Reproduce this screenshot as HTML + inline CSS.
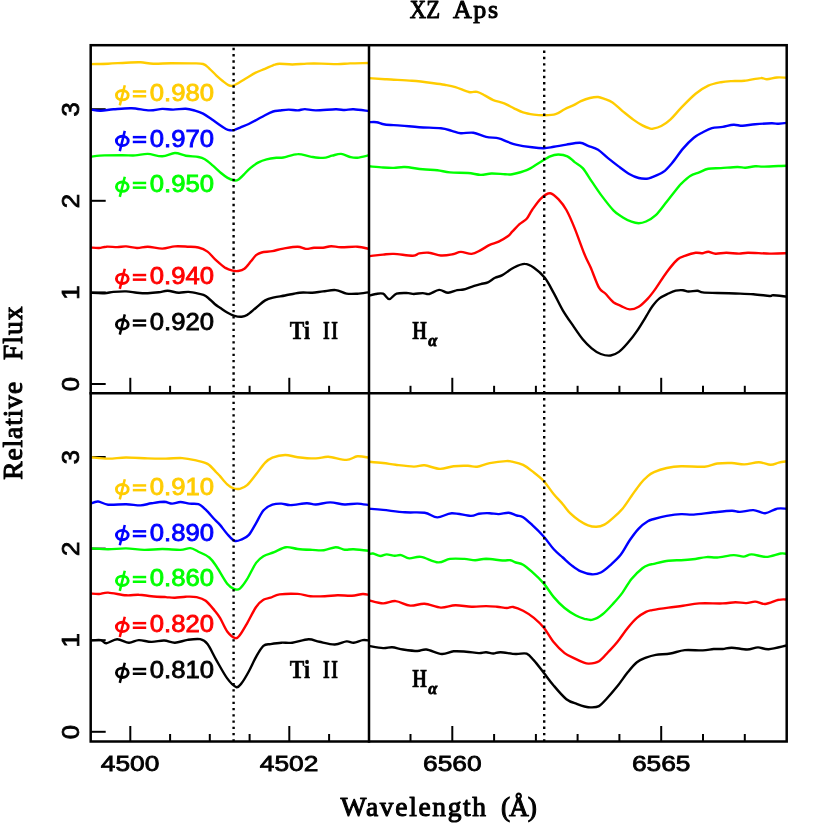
<!DOCTYPE html><html><head><meta charset="utf-8"><title>XZ Aps</title>
<style>html,body{margin:0;padding:0;background:#fff}svg{display:block}.s{font-family:"Liberation Sans",sans-serif}.h{font-family:"Liberation Serif",serif}.r{font-family:"Liberation Serif",serif;font-weight:bold}</style></head><body>
<svg width="830" height="830" viewBox="0 0 830 830">
<rect width="830" height="830" fill="#fff"/>
<g stroke="#000" stroke-width="2.0" fill="none">
<path d="M90.7 384.0H105.7"/>
<path d="M90.7 292.4H105.7"/>
<path d="M90.7 200.8H105.7"/>
<path d="M90.7 109.2H105.7"/>
<path d="M90.7 731.8H105.7"/>
<path d="M90.7 640.2H105.7"/>
<path d="M90.7 548.6H105.7"/>
<path d="M90.7 457.0H105.7"/>
<path d="M130.3 393.3V377.8"/>
<path d="M170.1 393.3V385.8"/>
<path d="M209.8 393.3V385.8"/>
<path d="M249.6 393.3V385.8"/>
<path d="M289.3 393.3V377.8"/>
<path d="M329.1 393.3V385.8"/>
<path d="M410.5 393.3V385.8"/>
<path d="M452.3 393.3V377.8"/>
<path d="M494.1 393.3V385.8"/>
<path d="M535.9 393.3V385.8"/>
<path d="M577.6 393.3V385.8"/>
<path d="M619.4 393.3V385.8"/>
<path d="M661.2 393.3V377.8"/>
<path d="M703.0 393.3V385.8"/>
<path d="M744.8 393.3V385.8"/>
<path d="M130.3 741.5V726.0"/>
<path d="M170.1 741.5V734.0"/>
<path d="M209.8 741.5V734.0"/>
<path d="M249.6 741.5V734.0"/>
<path d="M289.3 741.5V726.0"/>
<path d="M329.1 741.5V734.0"/>
<path d="M410.5 741.5V734.0"/>
<path d="M452.3 741.5V726.0"/>
<path d="M494.1 741.5V734.0"/>
<path d="M535.9 741.5V734.0"/>
<path d="M577.6 741.5V734.0"/>
<path d="M619.4 741.5V734.0"/>
<path d="M661.2 741.5V726.0"/>
<path d="M703.0 741.5V734.0"/>
<path d="M744.8 741.5V734.0"/>
</g>
<g fill="none" stroke-width="2.4" stroke-linejoin="round" stroke-linecap="butt">
<path stroke="#000000" d="M90.7 292.8C93.0 292.9 100.7 293.4 104.5 293.2C108.3 293.0 109.9 292.2 113.5 291.9C117.1 291.6 122.2 291.3 126.1 291.4C130.0 291.5 133.4 292.4 137.0 292.7C140.6 293.0 144.2 293.3 147.8 293.2C151.4 293.1 155.4 292.7 158.7 292.3C162.0 291.9 164.4 290.7 167.7 290.8C171.0 290.9 175.1 292.5 178.6 292.7C182.1 292.9 185.2 291.7 188.5 291.9C191.8 292.1 195.5 293.0 198.4 293.7C201.3 294.4 203.0 294.2 205.7 295.9C208.4 297.6 212.3 302.0 214.7 304.0C217.1 306.0 217.9 306.3 220.0 307.7C222.1 309.1 224.8 311.1 227.2 312.5C229.6 313.9 232.1 315.1 234.5 315.8C236.9 316.5 239.6 316.9 241.7 316.7C243.8 316.5 244.7 316.4 247.1 314.9C249.5 313.4 253.1 310.1 256.1 307.7C259.1 305.3 262.2 302.1 265.2 300.4C268.2 298.7 270.9 298.2 274.2 297.4C277.5 296.6 280.9 296.3 285.1 295.5C289.3 294.7 295.0 293.2 299.5 292.7C304.0 292.2 308.3 292.9 312.2 292.7C316.1 292.5 319.1 291.8 323.0 291.4C326.9 291.0 331.8 289.7 335.7 290.1C339.6 290.5 342.9 293.0 346.5 293.6C350.1 294.2 353.6 293.9 357.4 293.7C361.1 293.5 367.1 292.5 369.0 292.3"/>
<path stroke="#ff0000" d="M90.7 247.5C92.1 247.6 96.4 248.1 99.0 248.0C101.6 247.9 103.3 246.8 106.3 246.7C109.3 246.5 113.8 247.1 117.1 247.1C120.4 247.1 122.8 246.2 126.1 246.4C129.4 246.6 133.4 247.9 137.0 248.0C140.6 248.1 143.6 246.6 147.8 246.7C152.0 246.8 157.8 248.6 162.3 248.6C166.8 248.6 170.7 246.7 174.9 246.4C179.1 246.1 183.7 246.5 187.6 246.7C191.5 246.9 195.1 246.7 198.4 247.5C201.7 248.3 204.5 249.4 207.5 251.6C210.5 253.8 213.5 258.0 216.5 260.7C219.5 263.4 222.7 266.2 225.4 267.9C228.1 269.5 230.6 270.1 232.7 270.6C234.8 271.1 236.1 271.3 238.1 271.0C240.1 270.7 242.3 270.4 244.4 268.8C246.5 267.2 248.8 263.9 250.7 261.6C252.6 259.3 254.3 256.7 256.1 255.2C257.9 253.7 258.9 253.2 261.6 252.5C264.3 251.8 268.8 251.8 272.4 251.1C276.0 250.4 279.1 249.3 283.3 248.6C287.5 247.9 293.9 246.6 297.7 246.7C301.4 246.8 303.1 248.7 305.8 248.9C308.5 249.1 311.1 248.0 314.0 247.8C316.9 247.6 320.1 248.0 323.0 247.7C325.9 247.4 328.1 246.3 331.1 246.2C334.1 246.1 336.7 247.2 341.1 247.3C345.5 247.4 352.8 246.4 357.4 246.7C362.0 247.0 367.1 248.5 369.0 248.9"/>
<path stroke="#00ff00" d="M90.7 156.6C93.0 156.4 99.2 155.6 104.5 155.4C109.8 155.2 117.4 155.2 122.5 155.2C127.6 155.2 131.0 155.6 135.2 155.4C139.4 155.2 143.3 153.8 147.8 153.9C152.3 154.1 157.8 156.5 162.3 156.3C166.8 156.2 171.0 153.1 174.9 153.0C178.8 152.9 181.9 155.0 185.8 155.7C189.7 156.4 195.2 156.4 198.4 157.0C201.6 157.6 202.4 157.8 204.8 159.2C207.2 160.6 210.2 163.4 212.9 165.7C215.6 168.0 218.6 171.0 221.0 173.0C223.4 175.0 225.4 176.7 227.6 177.9C229.8 179.1 232.3 180.1 234.1 180.4C235.8 180.7 236.5 180.8 238.1 179.8C239.7 178.8 241.8 176.6 243.8 174.6C245.8 172.6 247.9 170.1 250.3 168.1C252.8 166.1 255.8 163.8 258.5 162.4C261.2 161.0 263.6 160.2 266.6 159.4C269.6 158.6 273.6 158.1 276.4 157.8C279.2 157.5 279.8 158.1 283.3 157.5C286.9 156.9 293.2 154.2 297.7 154.1C302.2 153.9 306.2 156.0 310.4 156.6C314.6 157.2 319.4 158.1 323.0 157.9C326.6 157.8 329.1 156.4 332.1 155.7C335.1 155.0 338.1 153.7 341.1 153.9C344.1 154.1 347.4 156.4 350.1 157.0C352.8 157.6 354.2 158.0 357.4 157.7C360.5 157.4 367.1 155.6 369.0 155.2"/>
<path stroke="#0000ff" d="M90.7 109.6C92.4 109.8 97.0 110.8 100.8 110.7C104.6 110.7 108.4 109.7 113.5 109.3C118.6 108.9 125.6 108.0 131.6 108.2C137.6 108.4 144.5 110.3 149.6 110.4C154.7 110.5 158.4 109.0 162.3 108.9C166.2 108.8 169.2 109.6 173.1 109.6C177.0 109.6 182.2 108.5 185.8 108.7C189.5 108.9 192.1 109.8 195.0 110.6C197.9 111.4 200.4 112.2 203.1 113.6C205.8 115.0 208.6 117.1 211.3 119.0C214.0 120.9 217.0 123.1 219.4 124.8C221.8 126.5 224.1 128.1 225.9 129.0C227.7 129.9 228.6 130.1 230.0 130.3C231.4 130.5 232.3 130.6 234.1 130.1C235.9 129.6 238.2 128.4 240.6 127.4C243.0 126.4 246.0 125.3 248.7 124.0C251.4 122.7 254.1 121.3 256.8 119.8C259.5 118.3 262.3 116.6 265.0 115.2C267.7 113.8 270.7 112.3 273.1 111.5C275.5 110.7 277.0 110.8 279.6 110.5C282.2 110.2 285.7 109.6 288.7 109.6C291.7 109.6 295.0 110.5 297.7 110.4C300.4 110.3 301.9 109.1 304.9 109.1C307.9 109.1 310.7 110.4 315.8 110.4C320.9 110.4 330.9 109.4 335.7 109.3C340.5 109.2 341.7 110.0 344.7 110.0C347.7 110.0 349.6 109.1 353.7 109.3C357.8 109.5 366.4 110.8 369.0 111.1"/>
<path stroke="#ffcc00" d="M90.7 64.1C93.6 64.0 102.2 63.9 108.1 63.7C114.0 63.5 120.7 62.9 126.1 62.7C131.5 62.5 136.1 62.1 140.6 62.3C145.1 62.5 148.2 63.6 153.3 63.7C158.4 63.9 165.0 63.2 171.3 63.2C177.6 63.2 185.9 63.3 191.2 63.4C196.5 63.5 200.0 63.1 203.1 64.0C206.2 64.9 207.4 66.9 209.6 68.8C211.8 70.7 214.0 73.3 216.2 75.3C218.4 77.3 220.7 79.4 222.7 81.0C224.7 82.6 226.7 84.3 228.4 85.1C230.2 85.9 231.4 86.1 233.2 85.7C234.9 85.3 236.6 84.0 238.9 82.7C241.2 81.4 244.4 79.4 247.1 77.8C249.8 76.2 252.2 74.4 255.2 72.9C258.2 71.4 261.7 70.2 265.0 68.8C268.3 67.4 272.4 65.4 274.8 64.6C277.2 63.7 276.7 63.7 279.6 63.7C282.5 63.7 287.8 64.5 292.3 64.5C296.8 64.5 302.0 63.8 306.8 63.6C311.6 63.5 316.1 63.5 321.2 63.6C326.3 63.7 332.7 64.1 337.5 64.1C342.3 64.1 344.9 63.6 350.1 63.4C355.4 63.2 365.9 63.1 369.0 63.0"/>
<path stroke="#000000" d="M369.0 295.8C370.1 295.5 373.4 294.4 375.8 294.0C378.2 293.6 380.8 292.8 383.1 293.7C385.4 294.6 387.1 299.1 389.4 299.1C391.6 299.1 393.4 294.7 396.6 293.7C399.8 292.7 405.5 293.1 408.4 293.1C411.3 293.2 411.4 294.0 413.8 294.0C416.2 294.0 420.2 293.1 422.8 293.1C425.4 293.1 426.5 294.5 429.2 294.0C431.9 293.5 436.0 290.1 439.1 289.9C442.2 289.7 445.1 292.8 448.1 292.8C451.1 292.8 454.6 290.7 457.2 290.1C459.8 289.6 461.1 290.1 463.5 289.5C465.9 288.9 468.7 287.7 471.6 286.8C474.5 285.9 478.0 284.9 480.7 284.1C483.4 283.4 485.5 283.4 487.9 282.3C490.3 281.2 492.7 279.0 495.1 277.8C497.5 276.6 499.2 276.8 502.4 275.1C505.5 273.4 510.2 269.4 514.0 267.5C517.8 265.6 521.6 263.8 524.9 263.9C528.2 263.9 530.6 265.5 533.9 267.8C537.2 270.1 541.5 273.6 544.8 277.8C548.1 282.0 550.8 287.7 553.8 293.1C556.8 298.5 559.5 304.7 562.8 310.3C566.1 315.9 570.4 321.8 573.7 326.6C577.0 331.4 579.7 335.6 582.7 339.2C585.7 342.8 588.7 345.8 591.7 348.3C594.7 350.8 597.6 352.8 600.8 354.0C604.0 355.2 607.7 355.9 610.7 355.5C613.7 355.1 616.0 354.0 618.9 351.9C621.8 349.8 624.9 346.3 627.9 342.8C630.9 339.3 633.9 335.5 636.9 331.1C639.9 326.7 643.5 320.7 646.0 316.6C648.5 312.5 650.0 309.5 652.2 306.5C654.5 303.5 656.8 300.6 659.5 298.4C662.2 296.2 665.8 294.8 668.5 293.5C671.2 292.2 673.3 291.2 675.7 290.6C678.1 290.1 680.9 290.1 683.0 290.2C685.1 290.3 686.0 291.4 688.4 291.5C690.8 291.6 695.0 290.7 697.4 290.8C699.8 290.9 699.5 292.0 702.8 292.4C706.1 292.8 711.9 292.8 717.3 293.0C722.7 293.2 729.4 293.3 735.4 293.5C741.4 293.7 747.7 293.8 753.4 294.2C759.1 294.6 766.4 295.8 769.7 296.0C773.0 296.2 770.5 295.2 773.3 295.3C776.1 295.4 784.5 296.4 786.7 296.6"/>
<path stroke="#ff0000" d="M369.0 256.1C371.4 255.9 379.0 255.0 383.1 254.6C387.2 254.2 388.9 253.7 393.9 253.9C398.9 254.1 408.7 255.8 412.9 255.7C417.1 255.6 416.5 253.9 419.2 253.4C421.9 252.9 425.6 252.3 429.2 252.7C432.8 253.0 437.0 255.2 440.9 255.5C444.8 255.8 449.4 254.9 452.7 254.3C456.0 253.7 457.6 252.0 460.8 251.9C464.0 251.8 468.3 254.2 471.6 253.9C474.9 253.6 477.7 251.6 480.7 250.1C483.7 248.6 486.7 246.3 489.7 244.9C492.7 243.5 495.7 243.1 498.7 241.6C501.7 240.1 505.6 237.8 507.8 236.2C510.1 234.5 510.3 233.7 512.2 231.7C514.2 229.7 517.1 226.3 519.5 224.1C521.9 221.9 524.6 221.0 526.7 218.7C528.8 216.3 529.7 213.4 532.1 210.0C534.5 206.6 538.1 201.1 541.1 198.3C544.1 195.5 547.2 192.9 550.2 193.2C553.2 193.5 556.5 197.3 559.2 200.1C561.9 202.9 563.8 205.3 566.4 210.0C569.0 214.7 571.6 220.7 574.6 228.1C577.6 235.5 581.8 247.7 584.5 254.3C587.2 260.9 588.4 262.2 590.8 267.8C593.2 273.4 596.6 283.4 599.0 287.7C601.4 292.0 602.9 291.1 605.3 293.5C607.7 295.9 610.8 300.1 613.4 302.2C616.0 304.2 618.0 304.6 620.7 305.8C623.4 307.0 626.7 309.2 629.7 309.4C632.7 309.5 635.7 308.5 638.7 306.7C641.7 304.9 644.9 301.7 647.8 298.6C650.6 295.6 652.6 292.8 655.8 288.4C658.9 284.0 663.1 277.0 666.7 272.2C670.3 267.4 674.5 262.2 677.5 259.5C680.5 256.8 681.8 257.0 684.8 255.9C687.8 254.8 692.6 253.2 695.6 252.8C698.6 252.4 700.7 253.4 702.8 253.2C704.9 253.0 706.2 251.7 708.3 251.8C710.4 251.9 712.5 253.5 715.5 253.7C718.5 253.9 722.4 252.8 726.3 252.8C730.2 252.8 735.4 253.6 739.0 253.6C742.6 253.6 742.9 252.7 748.0 252.7C753.1 252.7 763.2 253.5 769.7 253.6C776.2 253.7 783.9 253.3 786.7 253.2"/>
<path stroke="#00ff00" d="M369.0 166.3C371.4 166.5 379.0 167.2 383.1 167.5C387.2 167.8 390.3 168.0 393.9 167.9C397.5 167.8 400.0 166.8 404.8 167.0C409.6 167.2 417.4 168.8 422.8 169.3C428.2 169.8 432.8 169.7 437.3 170.2C441.8 170.7 444.8 171.9 449.9 172.4C455.0 172.9 462.9 172.6 468.0 173.0C473.1 173.4 476.8 174.8 480.7 174.9C484.6 175.0 487.4 173.6 491.5 173.5C495.6 173.4 501.6 174.1 505.0 174.2C508.4 174.3 508.6 174.9 512.2 174.2C515.8 173.5 522.2 172.1 526.7 170.2C531.2 168.3 535.4 165.0 539.3 162.7C543.2 160.4 547.0 157.7 550.2 156.3C553.4 154.9 555.4 154.5 558.3 154.5C561.2 154.5 564.7 155.0 567.4 156.3C570.1 157.6 572.0 160.1 574.6 162.1C577.2 164.1 579.9 164.9 582.7 168.1C585.6 171.3 588.7 177.0 591.7 181.4C594.7 185.8 597.2 189.8 600.8 194.6C604.4 199.4 609.8 206.5 613.4 210.3C617.0 214.1 619.5 215.3 622.5 217.2C625.5 219.1 628.8 220.7 631.5 221.7C634.2 222.7 636.3 223.2 638.7 223.2C641.1 223.2 643.1 222.8 646.0 221.5C648.9 220.2 652.3 218.5 655.8 215.2C659.2 211.9 663.1 206.2 666.7 201.7C670.3 197.2 675.1 191.1 677.5 188.1C679.9 185.1 679.0 185.8 681.1 183.8C683.2 181.8 687.2 177.9 690.2 176.0C693.2 174.1 696.2 173.6 699.2 172.4C702.2 171.2 704.7 169.5 708.3 168.8C711.9 168.1 716.1 168.4 720.9 168.1C725.7 167.8 733.1 167.1 737.2 167.0C741.3 166.9 742.3 167.8 745.3 167.7C748.3 167.6 752.0 166.5 755.2 166.3C758.4 166.1 759.0 166.7 764.3 166.6C769.5 166.5 783.0 165.8 786.7 165.7"/>
<path stroke="#0000ff" d="M369.0 122.2C370.3 122.2 374.1 121.8 376.7 122.2C379.3 122.6 380.8 123.9 384.9 124.5C389.0 125.1 395.4 125.1 401.1 125.6C406.8 126.0 412.6 126.8 419.2 127.2C425.8 127.7 435.5 127.7 440.9 128.3C446.3 128.9 448.5 130.0 451.8 130.8C455.1 131.6 457.2 132.9 460.8 133.2C464.4 133.5 469.2 132.1 473.4 132.7C477.6 133.3 481.9 135.9 486.1 136.8C490.3 137.7 495.1 137.5 498.7 138.3C502.3 139.2 505.0 140.9 507.8 141.9C510.6 142.9 511.7 143.7 515.8 144.6C519.8 145.5 527.4 146.7 532.1 147.3C536.8 147.9 540.3 148.3 543.9 148.2C547.5 148.1 550.0 147.4 553.8 146.8C557.5 146.2 562.0 145.3 566.4 144.6C570.8 143.9 576.4 142.6 580.0 142.8C583.6 143.0 585.1 144.6 588.1 145.8C591.1 147.0 594.8 147.8 598.1 149.8C601.4 151.9 604.5 155.3 608.0 158.1C611.5 160.9 615.3 163.9 618.9 166.6C622.5 169.3 626.4 172.3 629.7 174.2C633.0 176.1 635.8 177.2 638.7 178.0C641.6 178.8 644.6 178.8 646.9 178.7C649.1 178.5 649.5 178.2 652.2 177.1C654.9 176.0 659.8 174.4 663.1 172.1C666.4 169.8 668.8 166.9 672.1 163.0C675.4 159.1 679.4 152.8 683.0 148.6C686.6 144.4 690.5 140.4 693.8 137.7C697.1 135.0 699.8 133.9 702.8 132.3C705.8 130.7 708.6 129.0 711.9 128.1C715.2 127.2 719.1 127.5 722.7 126.9C726.3 126.3 730.3 124.9 733.6 124.7C736.9 124.5 739.0 125.9 742.6 125.8C746.2 125.7 750.4 124.6 755.2 124.2C760.0 123.8 767.6 123.4 771.5 123.3C775.4 123.2 776.2 123.9 778.7 123.8C781.2 123.7 785.4 123.1 786.7 122.9"/>
<path stroke="#ffcc00" d="M369.0 78.1C371.9 78.3 379.5 78.8 386.7 79.3C393.9 79.8 404.5 80.2 412.0 80.8C419.5 81.4 426.5 82.3 431.9 83.0C437.3 83.7 440.6 84.1 444.5 84.8C448.4 85.5 451.3 85.9 455.4 87.1C459.5 88.3 465.3 91.2 468.9 92.0C472.5 92.8 474.4 91.2 477.1 91.8C479.8 92.4 482.5 94.2 485.2 95.6C487.9 97.0 490.1 98.8 493.3 100.1C496.5 101.4 500.8 102.0 504.2 103.4C507.6 104.8 510.9 106.8 514.0 108.3C517.1 109.8 519.8 111.4 523.1 112.4C526.4 113.5 530.4 114.1 533.9 114.6C537.4 115.1 540.3 115.4 543.9 115.3C547.5 115.2 552.1 115.2 555.6 114.2C559.1 113.2 561.6 110.7 564.6 109.2C567.6 107.7 571.0 106.5 573.7 105.2C576.4 103.9 578.2 102.4 580.9 101.2C583.6 100.0 587.0 98.7 589.9 98.0C592.8 97.3 595.7 96.8 598.1 97.0C600.5 97.2 602.0 98.0 604.4 98.9C606.8 99.8 609.5 100.5 612.5 102.5C615.5 104.5 619.0 108.2 622.5 111.1C626.0 113.9 630.0 117.2 633.3 119.6C636.6 122.0 639.7 124.0 642.4 125.4C645.1 126.9 647.8 127.8 649.6 128.3C651.4 128.9 651.2 129.1 653.1 128.7C655.0 128.3 658.4 127.5 661.3 126.0C664.2 124.5 667.0 122.6 670.3 119.6C673.6 116.6 676.9 112.2 681.1 107.9C685.3 103.6 691.1 97.5 695.6 93.8C700.1 90.1 704.1 87.6 708.3 85.7C712.5 83.8 717.0 83.0 720.9 82.2C724.8 81.4 727.9 81.3 731.8 81.1C735.7 80.9 739.6 81.3 744.4 80.8C749.2 80.3 756.9 78.3 760.7 78.1C764.5 77.8 764.3 79.4 767.0 79.3C769.7 79.2 773.6 77.8 776.9 77.5C780.2 77.2 785.1 77.7 786.7 77.7"/>
<path stroke="#000000" d="M90.7 640.5C92.4 640.4 98.2 639.6 100.8 640.1C103.4 640.6 103.6 643.4 106.3 643.2C109.0 643.1 113.3 639.3 117.1 639.2C120.9 639.1 125.3 642.6 128.9 642.8C132.5 642.9 135.1 640.2 138.8 640.1C142.6 640.0 147.2 641.8 151.4 641.9C155.6 642.0 160.2 640.4 164.1 640.5C168.0 640.6 171.0 642.8 174.9 642.7C178.8 642.6 183.4 640.5 187.6 639.9C191.8 639.3 196.9 638.5 200.2 639.2C203.5 639.9 204.8 640.6 207.5 644.1C210.2 647.6 213.2 654.7 216.5 660.4C219.8 666.1 223.9 673.9 227.2 678.4C230.5 682.9 233.9 686.3 236.3 687.1C238.7 687.9 239.6 685.6 241.7 683.0C243.8 680.4 246.5 675.6 248.9 671.2C251.3 666.8 253.7 661.0 256.1 656.8C258.5 652.6 261.0 648.0 263.4 645.9C265.8 643.8 267.6 644.6 270.6 644.1C273.6 643.6 277.8 642.9 281.4 642.7C285.0 642.5 287.8 643.3 292.3 642.7C296.8 642.1 304.1 639.4 308.6 639.2C313.1 639.1 315.0 640.9 319.4 641.8C323.8 642.7 330.3 644.6 334.8 644.5C339.3 644.4 343.4 641.7 346.5 641.4C349.6 641.1 351.0 642.9 353.7 642.7C356.4 642.5 360.2 640.5 362.8 640.1C365.4 639.7 368.0 640.4 369.0 640.5"/>
<path stroke="#ff0000" d="M90.7 593.5C92.1 593.6 96.1 594.1 99.0 594.0C101.9 593.9 103.6 592.4 108.1 592.6C112.6 592.8 121.0 594.9 126.1 595.3C131.2 595.7 134.6 594.6 138.8 594.8C143.0 594.9 146.9 595.8 151.4 596.2C155.9 596.6 162.0 596.9 165.9 597.1C169.8 597.4 171.6 597.8 174.9 597.7C178.2 597.6 182.2 596.8 185.8 596.7C189.4 596.6 193.3 596.4 196.6 597.1C199.9 597.8 202.7 598.4 205.7 600.7C208.7 603.0 212.3 607.8 214.7 610.7C217.1 613.6 217.9 614.5 220.0 617.9C222.1 621.3 224.6 628.0 227.2 631.4C229.8 634.8 233.3 637.5 235.4 638.1C237.5 638.7 238.0 637.6 239.9 635.1C241.8 632.6 244.4 628.0 247.1 623.3C249.8 618.6 253.4 610.9 256.1 607.0C258.8 603.1 261.0 601.3 263.4 599.8C265.8 598.2 267.9 598.6 270.6 597.7C273.3 596.8 275.1 595.0 279.6 594.4C284.1 593.8 292.6 593.6 297.7 593.9C302.8 594.2 305.9 595.8 310.4 596.2C314.9 596.6 320.3 596.4 324.8 596.2C329.3 596.1 333.0 595.4 337.5 595.3C342.0 595.2 347.7 595.9 351.9 595.7C356.1 595.5 359.9 594.1 362.8 594.0C365.7 593.9 368.0 594.7 369.0 594.8"/>
<path stroke="#00ff00" d="M90.7 548.4C93.6 548.5 102.2 549.3 108.1 549.3C114.0 549.3 120.1 548.3 126.1 548.4C132.1 548.5 138.2 549.8 144.2 549.9C150.2 550.0 156.3 549.0 162.3 549.0C168.3 549.0 175.7 550.0 180.4 549.9C185.1 549.8 187.3 547.8 190.3 548.1C193.3 548.4 195.2 550.1 198.4 551.7C201.6 553.3 206.3 555.0 209.3 557.5C212.3 560.0 213.5 562.1 216.5 566.5C219.5 570.9 224.2 579.9 227.2 583.7C230.2 587.5 232.4 588.3 234.5 589.1C236.6 589.9 237.8 590.2 239.9 588.6C242.0 587.0 244.4 583.5 247.1 579.2C249.8 574.9 253.4 566.7 256.1 562.9C258.8 559.1 260.4 558.0 263.4 556.2C266.4 554.4 270.4 553.6 274.2 552.1C278.0 550.6 282.1 547.7 286.0 547.2C289.9 546.7 293.3 548.5 297.7 549.0C302.1 549.5 307.8 549.7 312.2 549.9C316.6 550.1 320.0 550.7 323.9 550.2C327.8 549.8 332.2 547.3 335.7 547.2C339.2 547.1 341.7 549.4 344.7 549.7C347.7 550.1 349.6 549.1 353.7 549.3C357.8 549.5 366.4 550.5 369.0 550.8"/>
<path stroke="#0000ff" d="M90.7 503.6C91.9 503.2 95.2 501.3 98.1 501.5C101.0 501.7 103.4 504.2 108.1 504.7C112.8 505.1 120.7 504.1 126.1 504.2C131.5 504.3 136.4 505.5 140.6 505.4C144.8 505.2 147.5 503.9 151.4 503.3C155.3 502.7 160.6 501.8 164.1 501.8C167.6 501.9 169.5 503.6 172.2 503.6C174.9 503.6 177.5 502.0 180.4 502.0C183.3 502.0 186.4 503.2 189.4 503.6C192.4 504.0 195.7 503.2 198.4 504.2C201.1 505.2 203.0 507.1 205.7 509.6C208.4 512.1 212.3 517.0 214.7 519.5C217.1 522.0 217.9 522.5 220.0 524.9C222.1 527.3 224.8 531.4 227.2 534.0C229.6 536.6 232.1 539.9 234.5 540.8C236.9 541.7 239.3 540.4 241.7 539.4C244.1 538.4 246.5 537.6 248.9 534.9C251.3 532.2 253.7 527.2 256.1 523.1C258.5 519.0 260.7 513.6 263.4 510.5C266.1 507.4 269.4 505.8 272.4 504.7C275.4 503.6 278.4 503.5 281.4 503.6C284.4 503.7 286.3 505.2 290.5 505.1C294.7 505.1 302.6 503.4 306.8 503.3C311.0 503.2 311.9 504.6 315.8 504.5C319.7 504.4 325.4 502.4 330.2 502.4C335.0 502.4 340.2 504.3 344.7 504.5C349.2 504.7 353.3 503.5 357.4 503.6C361.4 503.7 367.1 504.9 369.0 505.1"/>
<path stroke="#ffcc00" d="M90.7 457.2C93.6 457.4 102.2 458.6 108.1 458.6C114.0 458.7 119.5 457.5 126.1 457.5C132.7 457.5 141.2 458.2 147.8 458.4C154.4 458.6 160.2 458.7 165.9 458.6C171.6 458.6 177.4 457.8 182.2 458.1C187.0 458.4 190.6 459.2 194.8 460.2C199.0 461.2 203.9 461.8 207.5 463.9C211.1 465.9 214.4 470.5 216.5 472.5C218.6 474.5 218.2 474.1 220.0 476.1C221.8 478.1 224.9 482.2 227.2 484.3C229.5 486.4 231.5 487.6 233.6 488.4C235.7 489.1 237.7 489.3 239.9 488.8C242.2 488.3 244.4 487.6 247.1 485.2C249.8 482.8 253.1 478.1 256.1 474.3C259.1 470.5 262.5 465.4 265.2 462.6C267.9 459.8 269.1 459.0 272.4 457.7C275.7 456.4 280.9 455.1 285.1 455.0C289.3 454.9 292.6 456.6 297.7 457.2C302.8 457.8 310.7 458.5 315.8 458.4C320.9 458.3 323.3 456.6 328.4 456.8C333.5 457.1 341.7 460.0 346.5 459.9C351.3 459.8 353.6 456.7 357.4 456.3C361.1 455.9 367.1 457.5 369.0 457.7"/>
<path stroke="#000000" d="M369.0 645.9C371.4 646.3 379.2 647.9 383.1 648.1C387.0 648.3 388.8 647.0 392.1 647.2C395.4 647.4 398.8 648.9 403.0 649.5C407.2 650.1 413.5 651.0 417.4 651.0C421.3 651.0 422.3 649.0 426.4 649.5C430.5 650.0 437.3 653.7 441.8 654.0C446.3 654.3 449.5 651.7 453.6 651.3C457.7 650.9 462.0 651.4 466.2 651.7C470.4 652.0 475.6 653.0 478.9 653.1C482.2 653.2 483.7 652.1 486.1 652.2C488.5 652.3 490.9 653.5 493.3 653.5C495.7 653.5 496.9 652.1 500.6 652.2C504.4 652.3 511.4 653.8 515.8 654.0C520.1 654.2 523.7 652.6 526.7 653.7C529.7 654.8 531.0 657.2 533.9 660.4C536.8 663.6 540.6 668.8 543.9 673.0C547.2 677.2 550.0 681.3 553.8 685.7C557.5 690.1 562.5 696.1 566.4 699.2C570.3 702.3 574.3 702.9 577.3 704.1C580.3 705.3 582.2 706.0 584.5 706.5C586.8 707.0 588.4 707.5 590.8 707.4C593.2 707.3 596.4 707.5 599.0 706.1C601.6 704.7 603.2 702.5 606.2 699.2C609.2 696.0 613.5 691.1 617.1 686.6C620.7 682.1 624.6 676.2 627.9 672.1C631.2 668.0 633.9 664.6 636.9 662.2C639.9 659.8 642.9 658.9 646.0 657.7C649.1 656.5 651.8 655.6 655.8 654.9C659.8 654.2 665.5 654.3 670.3 653.5C675.1 652.7 679.4 650.6 684.8 650.1C690.2 649.6 698.0 650.6 702.8 650.4C707.6 650.2 710.4 649.2 713.7 649.0C717.0 648.8 719.7 649.2 722.7 649.0C725.7 648.8 727.7 647.6 731.8 647.7C735.9 647.8 742.7 649.5 747.1 649.5C751.5 649.5 754.4 647.4 758.0 647.4C761.6 647.4 764.0 649.5 768.8 649.2C773.6 648.9 783.7 646.1 786.7 645.5"/>
<path stroke="#ff0000" d="M369.0 600.4C371.4 600.9 378.7 603.3 383.1 603.4C387.6 603.5 391.2 600.7 395.7 601.1C400.2 601.5 405.4 605.2 410.2 605.6C415.0 606.0 419.5 603.5 424.6 603.8C429.7 604.1 435.8 607.4 440.9 607.6C446.0 607.8 450.3 605.4 455.4 605.2C460.5 605.1 466.5 606.6 471.6 606.7C476.7 606.9 481.9 606.1 486.1 606.1C490.3 606.1 493.4 606.4 496.9 606.7C500.4 607.0 504.2 608.0 506.9 608.0C509.6 608.0 510.4 606.5 513.1 607.0C515.8 607.5 519.6 608.9 523.1 610.7C526.6 612.5 530.4 615.0 533.9 617.9C537.4 620.8 540.6 623.7 543.9 627.8C547.2 631.9 550.3 638.1 553.8 642.3C557.2 646.5 561.0 650.3 564.6 653.1C568.2 655.9 572.5 657.4 575.5 658.9C578.5 660.4 580.5 661.4 582.7 662.2C585.0 663.0 586.3 663.8 589.0 663.6C591.7 663.5 595.8 663.2 599.0 661.3C602.2 659.4 605.0 655.4 608.0 652.2C611.0 649.0 613.8 646.4 617.1 642.3C620.4 638.2 624.6 631.9 627.9 627.8C631.2 623.7 633.9 620.5 636.9 617.9C639.9 615.2 643.5 613.2 646.0 611.9C648.5 610.6 648.5 610.8 652.2 610.1C656.0 609.4 663.4 608.3 668.5 607.6C673.6 606.9 677.9 606.5 683.0 605.8C688.1 605.1 692.6 603.8 699.2 603.4C705.8 603.0 716.7 603.6 722.7 603.4C728.7 603.2 731.5 602.2 735.4 602.2C739.3 602.2 742.9 603.2 746.2 603.1C749.5 603.0 752.0 601.5 755.2 601.6C758.4 601.8 761.3 604.3 765.2 604.0C769.1 603.7 775.1 600.5 778.7 599.8C782.3 599.0 785.4 599.5 786.7 599.5"/>
<path stroke="#00ff00" d="M369.0 554.2C369.7 554.1 371.2 553.2 373.1 553.5C375.0 553.8 378.1 555.9 380.4 556.0C382.7 556.1 384.3 554.4 386.7 554.4C389.1 554.4 392.4 555.6 394.8 555.7C397.2 555.8 398.7 554.7 401.1 555.1C403.5 555.5 406.0 558.1 409.3 558.4C412.6 558.7 416.2 556.2 421.0 556.9C425.8 557.6 433.4 562.1 438.2 562.4C443.0 562.7 445.5 559.5 449.9 558.9C454.3 558.3 460.2 558.7 464.4 558.9C468.6 559.1 471.6 560.2 475.2 560.2C478.8 560.2 481.6 558.7 486.1 558.7C490.6 558.8 498.3 560.2 502.4 560.5C506.4 560.8 508.2 559.9 510.4 560.2C512.6 560.5 513.7 561.8 515.8 562.5C517.9 563.2 520.4 563.1 523.1 564.7C525.8 566.3 528.6 568.8 532.1 571.9C535.6 575.0 540.3 579.4 543.9 583.6C547.5 587.8 550.3 593.0 553.8 597.1C557.2 601.2 561.0 605.0 564.6 608.0C568.2 611.0 572.2 613.4 575.5 615.2C578.8 617.0 581.6 618.0 584.5 618.8C587.4 619.5 589.7 620.5 592.7 619.7C595.7 619.0 599.2 617.0 602.6 614.3C606.0 611.6 610.1 607.0 613.4 603.4C616.7 599.8 619.5 596.7 622.5 592.6C625.5 588.5 628.2 583.0 631.5 579.0C634.8 575.0 639.4 570.7 642.4 568.3C645.4 565.9 647.7 565.5 649.6 564.7C651.5 564.0 650.9 564.5 654.0 563.8C657.1 563.1 664.0 561.3 668.5 560.7C673.0 560.1 677.0 560.4 681.1 560.2C685.2 560.0 688.7 559.8 692.9 559.3C697.1 558.8 702.4 557.4 706.5 557.1C710.6 556.8 712.8 557.8 717.3 557.5C721.8 557.2 729.2 555.2 733.6 555.1C738.0 555.0 740.5 556.7 743.5 556.6C746.5 556.5 747.8 554.4 751.6 554.4C755.4 554.4 761.3 557.0 766.1 556.9C770.9 556.8 777.2 554.0 780.6 553.5C784.0 553.0 785.7 553.8 786.7 553.9"/>
<path stroke="#0000ff" d="M369.0 508.7C371.4 508.9 377.1 509.3 383.1 509.9C389.1 510.5 397.9 511.8 404.8 512.3C411.7 512.8 419.2 511.9 424.6 512.8C430.0 513.6 432.8 517.3 437.3 517.4C441.8 517.5 446.2 513.5 451.8 513.2C457.4 513.0 466.2 515.8 470.7 515.9C475.2 516.0 475.7 514.2 478.9 513.7C482.1 513.2 486.4 513.1 489.7 513.2C493.0 513.3 495.5 514.2 498.7 514.1C501.9 514.0 505.7 512.5 508.7 512.7C511.7 512.9 514.3 514.8 516.7 515.5C519.1 516.2 520.5 515.6 523.1 517.2C525.7 518.8 528.6 521.6 532.1 524.9C535.6 528.1 540.3 532.6 543.9 536.7C547.5 540.8 550.6 545.8 553.8 549.3C556.9 552.8 559.8 554.8 562.8 557.5C565.8 560.2 568.9 563.3 571.9 565.6C574.9 567.9 577.6 570.0 580.9 571.4C584.2 572.8 588.4 574.1 591.7 574.3C595.0 574.5 597.8 574.0 600.8 572.5C603.8 571.0 606.5 568.6 609.8 565.6C613.1 562.6 617.4 559.0 620.7 554.8C624.0 550.6 626.7 544.7 629.7 540.3C632.7 535.9 635.7 531.8 638.7 528.6C641.7 525.4 645.2 522.9 647.8 521.3C650.3 519.7 650.9 519.9 654.0 519.0C657.1 518.1 662.2 516.7 666.7 515.9C671.2 515.1 676.6 514.3 681.1 514.1C685.6 513.9 688.4 514.9 693.8 514.6C699.2 514.3 707.4 512.9 713.7 512.3C720.0 511.7 727.4 510.9 731.8 510.8C736.2 510.7 736.3 512.0 739.9 511.9C743.5 511.8 749.2 509.9 753.4 510.1C757.6 510.3 761.3 513.4 765.2 513.2C769.1 513.0 773.3 509.4 776.9 508.7C780.5 507.9 785.1 508.7 786.7 508.7"/>
<path stroke="#ffcc00" d="M369.0 461.7C371.4 461.9 378.7 462.5 383.1 463.0C387.6 463.5 390.6 464.2 395.7 464.8C400.8 465.4 409.0 466.5 413.8 466.6C418.6 466.7 420.2 464.9 424.6 465.3C429.0 465.7 435.2 468.8 440.0 468.9C444.8 469.0 448.9 466.7 453.6 466.2C458.3 465.7 464.1 465.7 468.0 465.8C471.9 465.9 473.5 467.1 477.1 466.7C480.7 466.2 484.9 464.0 489.7 463.1C494.5 462.2 502.2 461.3 506.0 461.1C509.8 460.9 509.4 461.1 512.2 461.7C515.1 462.3 519.5 463.1 523.1 464.9C526.7 466.7 530.4 469.8 533.9 472.5C537.4 475.2 540.6 477.6 543.9 481.2C547.2 484.8 550.6 490.4 553.8 494.2C556.9 498.0 560.1 501.0 562.8 504.2C565.5 507.4 567.4 510.5 570.1 513.2C572.8 515.9 576.1 518.4 579.1 520.4C582.1 522.4 585.2 524.2 588.1 525.3C591.0 526.4 593.6 526.9 596.3 526.8C599.0 526.7 601.5 526.1 604.4 524.6C607.2 523.1 610.4 520.4 613.4 517.7C616.4 515.1 619.5 512.3 622.5 508.7C625.5 505.1 628.5 500.2 631.5 496.0C634.5 491.8 637.9 486.7 640.6 483.4C643.3 480.1 645.6 478.0 647.8 476.1C650.0 474.2 650.9 473.6 654.0 472.2C657.1 470.8 662.2 469.0 666.7 468.0C671.2 467.0 674.8 466.4 681.1 466.2C687.4 466.0 698.6 467.1 704.6 466.7C710.6 466.2 712.8 464.1 717.3 463.5C721.8 462.9 727.3 462.9 731.8 463.0C736.3 463.1 739.9 464.5 744.4 464.4C748.9 464.3 754.5 462.1 758.9 462.2C763.3 462.3 767.3 464.7 770.6 464.8C773.9 464.9 776.0 463.2 778.7 462.6C781.4 462.0 785.4 461.5 786.7 461.3"/>
</g>
<g stroke="#000" stroke-width="2.4" fill="none">
<path stroke-dasharray="2.4 3.842" d="M233.6 393.50V47.79"/>
<path stroke-dasharray="2.4 3.851" d="M233.6 741.60V395.39"/>
<path stroke-dasharray="2.4 3.907" d="M544.2 393.50V50.52"/>
<path stroke-dasharray="2.4 3.917" d="M544.2 741.60V398.08"/>
</g>
<g stroke="#000" stroke-width="2.5" fill="none" stroke-linecap="square">
<rect x="90.7" y="45.2" width="696.0" height="696.3"/>
<path d="M369.0 45.2V741.5"/>
<path d="M90.7 393.3H786.7"/>
</g>
<g style="opacity:.999">
<g fill="#ffcc00" stroke="#ffcc00"><ellipse cx="122.3" cy="95.2" rx="5.9" ry="4.7" fill="none" stroke-width="2.9"/><path d="M124.8 85.2L119.8 105.4" fill="none" stroke-width="2.5" stroke-linecap="butt"/><rect x="132.8" y="90.2" width="13.4" height="2.5" stroke="none"/><rect x="132.8" y="95.0" width="13.4" height="2.5" stroke="none"/><text class="s" x="149.8" y="100.8" font-size="23" stroke-width="0.8" textLength="64.2" lengthAdjust="spacingAndGlyphs">0.980</text></g>
<g fill="#0000ff" stroke="#0000ff"><ellipse cx="122.3" cy="140.9" rx="5.9" ry="4.7" fill="none" stroke-width="2.9"/><path d="M124.8 130.9L119.8 151.1" fill="none" stroke-width="2.5" stroke-linecap="butt"/><rect x="132.8" y="135.9" width="13.4" height="2.5" stroke="none"/><rect x="132.8" y="140.7" width="13.4" height="2.5" stroke="none"/><text class="s" x="149.8" y="146.5" font-size="23" stroke-width="0.8" textLength="64.2" lengthAdjust="spacingAndGlyphs">0.970</text></g>
<g fill="#00ff00" stroke="#00ff00"><ellipse cx="122.3" cy="186.7" rx="5.9" ry="4.7" fill="none" stroke-width="2.9"/><path d="M124.8 176.7L119.8 196.9" fill="none" stroke-width="2.5" stroke-linecap="butt"/><rect x="132.8" y="181.7" width="13.4" height="2.5" stroke="none"/><rect x="132.8" y="186.4" width="13.4" height="2.5" stroke="none"/><text class="s" x="149.8" y="192.3" font-size="23" stroke-width="0.8" textLength="64.2" lengthAdjust="spacingAndGlyphs">0.950</text></g>
<g fill="#ff0000" stroke="#ff0000"><ellipse cx="122.3" cy="278.8" rx="5.9" ry="4.7" fill="none" stroke-width="2.9"/><path d="M124.8 268.7L119.8 288.9" fill="none" stroke-width="2.5" stroke-linecap="butt"/><rect x="132.8" y="273.8" width="13.4" height="2.5" stroke="none"/><rect x="132.8" y="278.4" width="13.4" height="2.5" stroke="none"/><text class="s" x="149.8" y="284.3" font-size="23" stroke-width="0.8" textLength="64.2" lengthAdjust="spacingAndGlyphs">0.940</text></g>
<g fill="#000000" stroke="#000000"><ellipse cx="122.3" cy="324.4" rx="5.9" ry="4.7" fill="none" stroke-width="2.9"/><path d="M124.8 314.4L119.8 334.6" fill="none" stroke-width="2.5" stroke-linecap="butt"/><rect x="132.8" y="319.4" width="13.4" height="2.5" stroke="none"/><rect x="132.8" y="324.1" width="13.4" height="2.5" stroke="none"/><text class="s" x="149.8" y="330.0" font-size="23" stroke-width="0.8" textLength="64.2" lengthAdjust="spacingAndGlyphs">0.920</text></g>
<g fill="#ffcc00" stroke="#ffcc00"><ellipse cx="122.3" cy="489.2" rx="5.9" ry="4.7" fill="none" stroke-width="2.9"/><path d="M124.8 479.2L119.8 499.4" fill="none" stroke-width="2.5" stroke-linecap="butt"/><rect x="132.8" y="484.2" width="13.4" height="2.5" stroke="none"/><rect x="132.8" y="488.9" width="13.4" height="2.5" stroke="none"/><text class="s" x="149.8" y="494.8" font-size="23" stroke-width="0.8" textLength="64.2" lengthAdjust="spacingAndGlyphs">0.910</text></g>
<g fill="#0000ff" stroke="#0000ff"><ellipse cx="122.3" cy="535.1" rx="5.9" ry="4.7" fill="none" stroke-width="2.9"/><path d="M124.8 525.0L119.8 545.2" fill="none" stroke-width="2.5" stroke-linecap="butt"/><rect x="132.8" y="530.1" width="13.4" height="2.5" stroke="none"/><rect x="132.8" y="534.8" width="13.4" height="2.5" stroke="none"/><text class="s" x="149.8" y="540.6" font-size="23" stroke-width="0.8" textLength="64.2" lengthAdjust="spacingAndGlyphs">0.890</text></g>
<g fill="#00ff00" stroke="#00ff00"><ellipse cx="122.3" cy="580.8" rx="5.9" ry="4.7" fill="none" stroke-width="2.9"/><path d="M124.8 570.7L119.8 590.9" fill="none" stroke-width="2.5" stroke-linecap="butt"/><rect x="132.8" y="575.8" width="13.4" height="2.5" stroke="none"/><rect x="132.8" y="580.5" width="13.4" height="2.5" stroke="none"/><text class="s" x="149.8" y="586.3" font-size="23" stroke-width="0.8" textLength="64.2" lengthAdjust="spacingAndGlyphs">0.860</text></g>
<g fill="#ff0000" stroke="#ff0000"><ellipse cx="122.3" cy="626.9" rx="5.9" ry="4.7" fill="none" stroke-width="2.9"/><path d="M124.8 616.8L119.8 637.0" fill="none" stroke-width="2.5" stroke-linecap="butt"/><rect x="132.8" y="621.9" width="13.4" height="2.5" stroke="none"/><rect x="132.8" y="626.5" width="13.4" height="2.5" stroke="none"/><text class="s" x="149.8" y="632.4" font-size="23" stroke-width="0.8" textLength="64.2" lengthAdjust="spacingAndGlyphs">0.820</text></g>
<g fill="#000000" stroke="#000000"><ellipse cx="122.3" cy="672.8" rx="5.9" ry="4.7" fill="none" stroke-width="2.9"/><path d="M124.8 662.7L119.8 682.9" fill="none" stroke-width="2.5" stroke-linecap="butt"/><rect x="132.8" y="667.8" width="13.4" height="2.5" stroke="none"/><rect x="132.8" y="672.5" width="13.4" height="2.5" stroke="none"/><text class="s" x="149.8" y="678.3" font-size="23" stroke-width="0.8" textLength="64.2" lengthAdjust="spacingAndGlyphs">0.810</text></g>
<g class="r" fill="#000" stroke="#000" stroke-width="0.5">
<text x="289.8" y="339.0" font-size="25" textLength="20.2" lengthAdjust="spacingAndGlyphs">Ti</text>
<text x="322.9" y="339.0" font-size="25" textLength="6.7" lengthAdjust="spacingAndGlyphs">I</text>
<text x="331.3" y="339.0" font-size="25" textLength="6.7" lengthAdjust="spacingAndGlyphs">I</text>
<text x="289.8" y="678.0" font-size="25" textLength="20.2" lengthAdjust="spacingAndGlyphs">Ti</text>
<text x="322.9" y="678.0" font-size="25" textLength="6.7" lengthAdjust="spacingAndGlyphs">I</text>
<text x="331.3" y="678.0" font-size="25" textLength="6.7" lengthAdjust="spacingAndGlyphs">I</text>
<text x="412.2" y="339.2" font-size="25" textLength="14.6" lengthAdjust="spacingAndGlyphs">H</text>
<text x="428.3" y="345.9" font-size="16.5" font-style="italic" stroke-width="0.8" textLength="9" lengthAdjust="spacingAndGlyphs">α</text>
<text x="412.2" y="687.1" font-size="25" textLength="14.6" lengthAdjust="spacingAndGlyphs">H</text>
<text x="428.3" y="693.8" font-size="16.5" font-style="italic" stroke-width="0.8" textLength="9" lengthAdjust="spacingAndGlyphs">α</text>
</g>
<g class="s" font-size="23.0" fill="#000" stroke="#000" stroke-width="0.8" text-anchor="middle">
<text x="130.1" y="770.5" font-size="22.2" textLength="58.6" lengthAdjust="spacingAndGlyphs">4500</text>
<text x="289.1" y="770.5" font-size="22.2" textLength="58.6" lengthAdjust="spacingAndGlyphs">4502</text>
<text x="452.3" y="770.5" font-size="22.2" textLength="58.6" lengthAdjust="spacingAndGlyphs">6560</text>
<text x="661.2" y="770.5" font-size="22.2" textLength="58.6" lengthAdjust="spacingAndGlyphs">6565</text>
<text transform="translate(78.9 384.2) rotate(-90)" x="0" y="0" font-size="24.3" textLength="14.3" lengthAdjust="spacingAndGlyphs">0</text>
<text transform="translate(78.9 292.6) rotate(-90)" x="0" y="0" font-size="24.3" textLength="14.3" lengthAdjust="spacingAndGlyphs">1</text>
<text transform="translate(78.9 201.0) rotate(-90)" x="0" y="0" font-size="24.3" textLength="14.3" lengthAdjust="spacingAndGlyphs">2</text>
<text transform="translate(78.9 109.4) rotate(-90)" x="0" y="0" font-size="24.3" textLength="14.3" lengthAdjust="spacingAndGlyphs">3</text>
<text transform="translate(78.9 732.0) rotate(-90)" x="0" y="0" font-size="24.3" textLength="14.3" lengthAdjust="spacingAndGlyphs">0</text>
<text transform="translate(78.9 640.4) rotate(-90)" x="0" y="0" font-size="24.3" textLength="14.3" lengthAdjust="spacingAndGlyphs">1</text>
<text transform="translate(78.9 548.8) rotate(-90)" x="0" y="0" font-size="24.3" textLength="14.3" lengthAdjust="spacingAndGlyphs">2</text>
<text transform="translate(78.9 457.2) rotate(-90)" x="0" y="0" font-size="24.3" textLength="14.3" lengthAdjust="spacingAndGlyphs">3</text>
</g>
<g class="h" fill="#000" stroke="#000" stroke-width="1.05" stroke-linejoin="round">
<text x="409.8" y="18.3" font-size="26" textLength="30.2" lengthAdjust="spacingAndGlyphs">XZ</text>
<text x="453.0" y="18.3" font-size="26.0" textLength="45.0" lengthAdjust="spacing">Aps</text>
<text x="340.6" y="815.5" font-size="27.5" textLength="145.5" lengthAdjust="spacing">Wavelength</text>
<text x="501.0" y="815.5" font-size="27.5" textLength="36.0" lengthAdjust="spacing">(Å)</text>
<text transform="translate(22.3 479.8) rotate(-90)" font-size="27.5" textLength="98.0" lengthAdjust="spacing">Relative</text>
<text transform="translate(22.3 360.0) rotate(-90)" font-size="27.5" textLength="53.5" lengthAdjust="spacing">Flux</text>
</g>
</g>
</svg></body></html>
